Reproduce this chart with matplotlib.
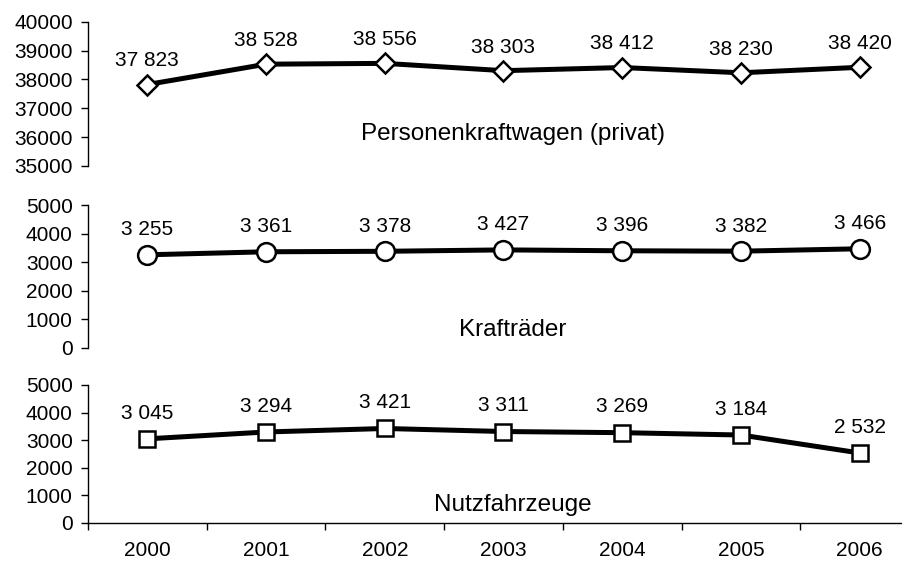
import matplotlib
matplotlib.use("Agg")
import matplotlib.pyplot as plt
from matplotlib.ticker import FixedLocator, NullFormatter

plt.rcParams['font.family'] = ['Liberation Sans', 'DejaVu Sans']

years = ['2000', '2001', '2002', '2003', '2004', '2005', '2006']
pkw = [37823, 38528, 38556, 38303, 38412, 38230, 38420]
krad = [3255, 3361, 3378, 3427, 3396, 3382, 3466]
nfz = [3045, 3294, 3421, 3311, 3269, 3184, 2532]

series_names = ['Personenkraftwagen (privat)', 'Krafträder', 'Nutzfahrzeuge']
pkw_ticks = [35000, 36000, 37000, 38000, 39000, 40000]
small_ticks = [0, 1000, 2000, 3000, 4000, 5000]

W, H = 903, 563
fig = plt.figure(figsize=(W / 100, H / 100), dpi=100)

left = 88 / W
width = (919 - 88) / W

def ax_rect(top_px, bottom_px):
    return [left, 1 - bottom_px / H, width, (bottom_px - top_px) / H]

ax1 = fig.add_axes(ax_rect(21.7, 166))
ax2 = fig.add_axes(ax_rect(205, 347.7))
ax3 = fig.add_axes(ax_rect(385, 522.7))

fs = 15
fs_name = 17.5
x = list(range(len(years)))

configs = [
    (ax1, pkw, 'D', 10, pkw_ticks, (35000, 40000), 17, 134),
    (ax2, krad, 'o', 13.5, small_ticks, (0, 5000), 18, 330),
    (ax3, nfz, 's', 11, small_ticks, (0, 5000), 18.5, 505),
]

for i, (ax, vals, mk, ms, yt, ylim, off, label_y_px) in enumerate(configs):
    ax.plot(x, vals, color='black', lw=3.6, marker=mk, ms=ms,
            mfc='white', mec='black', mew=1.8, zorder=3, clip_on=False)
    for xi, v in zip(x, vals):
        ax.annotate(f"{v:,}".replace(",", " "), (xi, v), xytext=(0, off),
                    textcoords='offset points', ha='center', va='center',
                    fontsize=fs)
    ax.set_xlim(-0.5, len(years) - 0.5)
    ax.set_ylim(*ylim)
    ax.set_yticks(yt)
    ax.set_yticklabels([str(t) for t in yt], fontsize=fs)
    ax.tick_params(axis='y', direction='out', length=5, width=1, pad=6)
    for s in ['top', 'right']:
        ax.spines[s].set_visible(False)
    ax.spines['left'].set_linewidth(1)
    ax.patch.set_alpha(0)
    fig.text(513 / W, 1 - label_y_px / H, series_names[i], ha='center',
             va='center', fontsize=fs_name)
    if ax is not ax3:
        ax.spines['bottom'].set_visible(False)
        ax.set_xticks([])
    else:
        ax.set_xticks(x)
        ax.set_xticklabels(years, fontsize=fs)
        ax.tick_params(axis='x', which='major', length=0, pad=13)
        ax.xaxis.set_minor_locator(FixedLocator([k - 0.5 for k in range(len(years) + 1)]))
        ax.xaxis.set_minor_formatter(NullFormatter())
        ax.tick_params(axis='x', which='minor', direction='out', length=5, width=1)
        ax.spines['bottom'].set_linewidth(1)

fig.savefig('out.png', dpi=100)
